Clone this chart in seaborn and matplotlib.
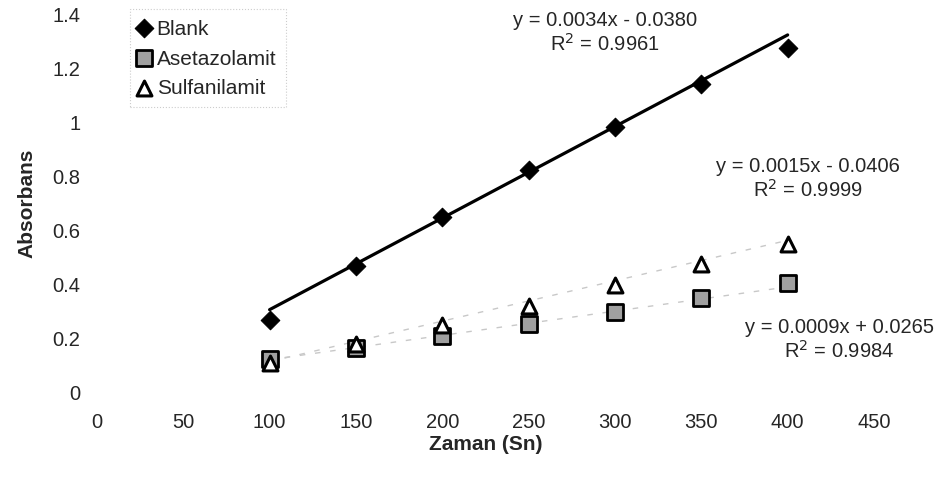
import numpy as np
import pandas as pd
import matplotlib
matplotlib.use("Agg")
import matplotlib.pyplot as plt
import seaborn as sns

# data
zaman = [100, 150, 200, 250, 300, 350, 400]
blank = [0.265, 0.465, 0.645, 0.82, 0.98, 1.14, 1.273]
asetazolamit = [0.12, 0.16, 0.205, 0.25, 0.295, 0.345, 0.40]
sulfanilamit = [0.105, 0.175, 0.245, 0.315, 0.395, 0.47, 0.545]

# printed trendline equations (slope, intercept, R2)
series_names = ["Blank", "Asetazolamit", "Sulfanilamit"]
slopes = [0.0034, 0.0009, 0.0015]
intercepts = [-0.0380, 0.0265, -0.0406]
r2_values = [0.9961, 0.9984, 0.9999]
eq_labels = ["y = 0.0034x - 0.0380", "y = 0.0009x + 0.0265", "y = 0.0015x - 0.0406"]

x_ticks = [0, 50, 100, 150, 200, 250, 300, 350, 400, 450]
y_ticks = [0, 0.2, 0.4, 0.6, 0.8, 1, 1.2, 1.4]
y_tick_labels = ["0", "0.2", "0.4", "0.6", "0.8", "1", "1.2", "1.4"]

sns.set_theme(style="white")
plt.rcParams["font.family"] = ["Liberation Sans", "DejaVu Sans"]
fs = 14.5

df = pd.DataFrame({"Zaman": zaman, "Blank": blank,
                   "Asetazolamit": asetazolamit, "Sulfanilamit": sulfanilamit})

fig = plt.figure(figsize=(9.5, 4.81), dpi=100)
ax = fig.add_axes([0.102, 0.185, 0.818, 0.784])

# trendlines
xl = np.array([zaman[0], zaman[-1]])
ax.plot(xl, slopes[0] * xl + intercepts[0], color="black", lw=2.3, zorder=2)
for i in (1, 2):
    ax.plot(xl, slopes[i] * xl + intercepts[i], color="#c8c8c8", lw=1,
            ls=(0, (4, 7)), zorder=1)

sns.scatterplot(data=df, x="Zaman", y="Blank", marker="D", s=90, color="black",
                edgecolor="black", ax=ax, zorder=3, label="Blank")
sns.scatterplot(data=df, x="Zaman", y="Asetazolamit", marker="s", s=125,
                color="#a0a0a0", edgecolor="black", linewidth=2, ax=ax,
                zorder=3, label="Asetazolamit")
sns.scatterplot(data=df, x="Zaman", y="Sulfanilamit", marker="^", s=115,
                facecolor="white", edgecolor="black", linewidth=2.2, ax=ax,
                zorder=4, label="Sulfanilamit")

ax.set_xlim(0, 450)
ax.set_ylim(0, 1.4)
ax.set_xticks(x_ticks)
ax.set_xticklabels([str(t) for t in x_ticks], fontsize=fs)
ax.set_yticks(y_ticks)
ax.set_yticklabels(y_tick_labels, fontsize=fs)
ax.tick_params(axis="y", length=0, pad=12)
ax.tick_params(axis="x", length=0, pad=15)
for s in ax.spines.values():
    s.set_visible(False)

ax.set_xlabel("Zaman (Sn)", fontsize=15, fontweight="bold", labelpad=2)
ax.set_ylabel("Absorbans", fontsize=15, fontweight="bold", labelpad=11)

# equation labels (data coords)
eq_pos = [(294, 1.378), (430, 0.238), (412, 0.836)]
for i in range(3):
    x0, y0 = eq_pos[i]
    ax.text(x0, y0, eq_labels[i], ha="center", va="center", fontsize=fs)
    ax.text(x0, y0 - 0.084, f"R$^2$ = {r2_values[i]:.4f}", ha="center",
            va="center", fontsize=fs)

leg = ax.legend(loc="upper left", bbox_to_anchor=(0.042, 1.012), fontsize=15,
                frameon=True, handletextpad=0.35, borderpad=0.45,
                labelspacing=0.52, handlelength=0.5, fancybox=False,
                borderaxespad=0)
leg.get_frame().set_edgecolor("#c0c0c0")
leg.get_frame().set_linestyle(":")
leg.get_frame().set_linewidth(0.8)

fig.savefig("out.png", dpi=100)
